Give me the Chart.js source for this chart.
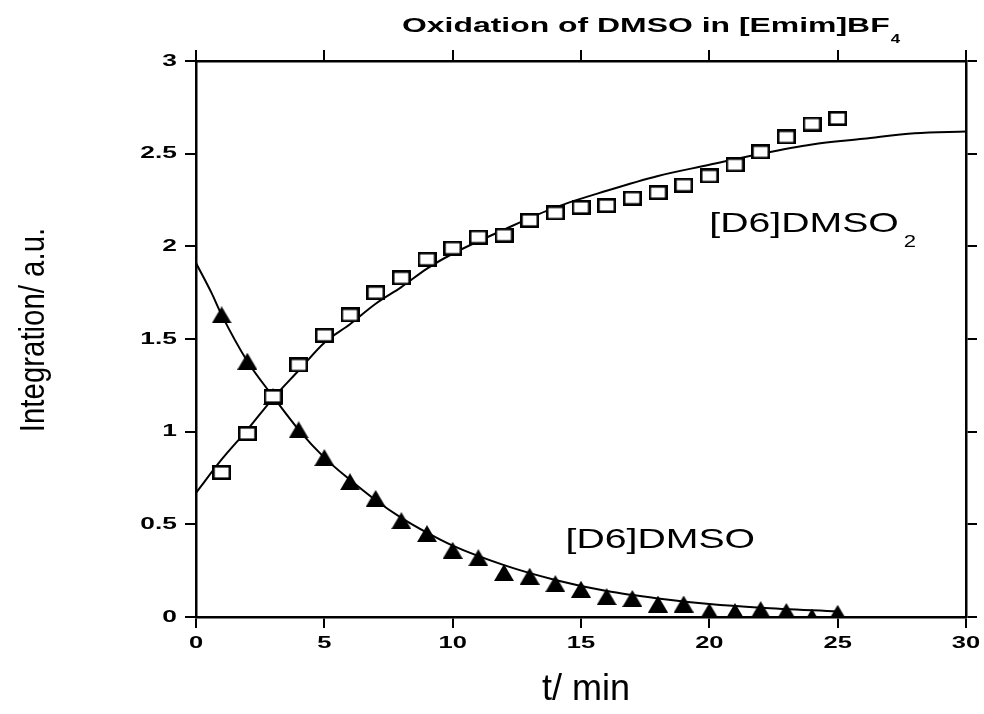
<!DOCTYPE html>
<html>
<head>
<meta charset="utf-8">
<script src="https://cdn.jsdelivr.net/npm/chart.js@4/dist/chart.umd.min.js"></script>
<style>
  body { margin: 0; background: #fff; }
  #wrap { width: 984px; height: 714px; position: relative; }
</style>
</head>
<body>
<div id="wrap"><canvas id="oxChart"></canvas></div>
<script>
// measured points, t in minutes
const times = [1, 2, 3, 4, 5, 6, 7, 8, 9, 10, 11, 12, 13, 14, 15, 16, 17, 18, 19, 20, 21, 22, 23, 24, 25];
const dmso2 = [0.78, 0.99, 1.19, 1.36, 1.52, 1.63, 1.75, 1.83, 1.93, 1.99, 2.05, 2.06, 2.14, 2.18, 2.21, 2.22, 2.26, 2.29, 2.33, 2.38, 2.44, 2.51, 2.59, 2.66, 2.69];
const dmso = [1.63, 1.38, 1.19, 1.01, 0.86, 0.73, 0.64, 0.52, 0.45, 0.36, 0.32, 0.24, 0.22, 0.18, 0.15, 0.11, 0.10, 0.07, 0.07, 0.03, 0.03, 0.04, 0.03, 0.00, 0.02];

// fitted curves
const fitT2 = [0, 1, 2, 3, 4, 5, 6, 7, 8, 9, 10, 12, 14, 16, 18, 20, 22, 24, 26, 28, 30];
const fitDmso2 = [0.67, 0.85, 1.01, 1.18, 1.33, 1.48, 1.58, 1.69, 1.78, 1.88, 1.96, 2.09, 2.21, 2.30, 2.38, 2.44, 2.50, 2.55, 2.58, 2.61, 2.62];
const fitT1 = [0, 0.6, 1, 2, 3, 4, 5, 6, 7, 8, 9, 10, 12, 14, 16, 18, 20, 22, 25];
const fitDmso = [1.91, 1.75, 1.63, 1.38, 1.19, 1.01, 0.86, 0.74, 0.63, 0.535, 0.455, 0.385, 0.28, 0.2, 0.14, 0.1, 0.07, 0.05, 0.03];

const xTicks = [0, 5, 10, 15, 20, 25, 30];
const yTicks = [0, 0.5, 1, 1.5, 2, 2.5, 3];

const pts = (xs, ys) => xs.map((x, i) => ({ x: x, y: ys[i] }));

// open rectangle and filled triangle markers
function makeRect() {
  const c = document.createElement('canvas');
  c.width = 19; c.height = 15;
  const g = c.getContext('2d');
  g.fillStyle = '#fff';
  g.fillRect(0, 0, 19, 15);
  g.strokeStyle = '#000';
  g.lineWidth = 2.6;
  g.strokeRect(1.3, 1.3, 16.4, 12.4);
  return c;
}
function makeTri() {
  const c = document.createElement('canvas');
  c.width = 20; c.height = 17;
  const g = c.getContext('2d');
  g.fillStyle = '#000';
  g.beginPath();
  g.moveTo(10, 0);
  g.lineTo(20, 17);
  g.lineTo(0, 17);
  g.closePath();
  g.fill();
  return c;
}

// the original typeface is a wide Helvetica, so text is stretched sideways
function wideText(ctx, text, x, y, sx) {
  ctx.save();
  ctx.translate(x, y);
  ctx.scale(sx, 1);
  ctx.fillText(text, 0, 0);
  const w = ctx.measureText(text).width * sx;
  ctx.restore();
  return w;
}

const SANS = '"Liberation Sans", Arial, sans-serif';

const textPlugin = {
  id: 'texts',
  afterDraw(chart) {
    const ctx = chart.ctx;
    const xs = chart.scales.x, ys = chart.scales.y;
    ctx.save();
    ctx.fillStyle = '#000';
    ctx.textBaseline = 'middle';

    // tick labels
    ctx.font = 'bold 17px ' + SANS;
    ctx.textAlign = 'right';
    yTicks.forEach(v => wideText(ctx, String(v), 177, ys.getPixelForValue(v), 1.55));
    ctx.textAlign = 'center';
    xTicks.forEach(v => wideText(ctx, String(v), xs.getPixelForValue(v), 643, 1.5));

    // title with subscript
    ctx.textAlign = 'left';
    ctx.font = 'bold 21px ' + SANS;
    const tw = wideText(ctx, 'Oxidation of DMSO in [Emim]BF', 402, 26, 1.52);
    ctx.font = 'bold 13px ' + SANS;
    wideText(ctx, '4', 402 + tw + 1, 39, 1.3);

    // series labels
    ctx.font = '28px ' + SANS;
    const lx = xs.getPixelForValue(20), ly = ys.getPixelForValue(2.12);
    const lw = wideText(ctx, '[D6]DMSO', lx, ly, 1.4);
    ctx.font = '17px ' + SANS;
    wideText(ctx, '2', lx + lw + 5, ly + 18, 1.3);
    ctx.font = '28px ' + SANS;
    wideText(ctx, '[D6]DMSO', xs.getPixelForValue(14.4), ys.getPixelForValue(0.415), 1.4);

    // axis titles (narrow face)
    ctx.textAlign = 'center';
    ctx.font = '36px ' + SANS;
    wideText(ctx, 't/ min', 586, 690, 1.0);
    ctx.translate(34, 330);
    ctx.rotate(-Math.PI / 2);
    ctx.font = '35px ' + SANS;
    wideText(ctx, 'Integration/ a.u.', 0, 0, 0.84);
    ctx.restore();
  }
};

const gridOpts = { drawOnChartArea: false, color: '#000', lineWidth: 2, tickLength: 11 };
const borderOpts = { color: '#000', width: 2.5 };

new Chart(document.getElementById('oxChart'), {
  type: 'scatter',
  data: {
    datasets: [
      { label: '[D6]DMSO2', data: pts(times, dmso2), pointStyle: makeRect(), pointRadius: 9, showLine: false },
      { label: '[D6]DMSO', data: pts(times, dmso), pointStyle: makeTri(), pointRadius: 9, showLine: false },
      { label: 'fit DMSO2', data: pts(fitT2, fitDmso2), showLine: true, pointRadius: 0, borderColor: '#000', borderWidth: 2, cubicInterpolationMode: 'monotone' },
      { label: 'fit DMSO', data: pts(fitT1, fitDmso), showLine: true, pointRadius: 0, borderColor: '#000', borderWidth: 2, cubicInterpolationMode: 'monotone' }
    ]
  },
  options: {
    responsive: true,
    maintainAspectRatio: false,
    animation: false,
    layout: { padding: 0 },
    plugins: { legend: { display: false }, tooltip: { enabled: false } },
    scales: {
      x: {
        type: 'linear', position: 'bottom', min: 0, max: 30,
        afterBuildTicks: s => { s.ticks = xTicks.map(v => ({ value: v })); },
        ticks: { display: false },
        grid: gridOpts, border: borderOpts,
        afterFit: s => { s.height = 97; }
      },
      x2: {
        type: 'linear', position: 'top', min: 0, max: 30,
        afterBuildTicks: s => { s.ticks = xTicks.map(v => ({ value: v })); },
        ticks: { display: false },
        grid: gridOpts, border: borderOpts,
        afterFit: s => { s.height = 61; }
      },
      y: {
        type: 'linear', position: 'left', min: 0, max: 3,
        afterBuildTicks: s => { s.ticks = yTicks.map(v => ({ value: v })); },
        ticks: { display: false },
        grid: gridOpts, border: borderOpts,
        afterFit: s => { s.width = 196; }
      },
      y2: {
        type: 'linear', position: 'right', min: 0, max: 3,
        afterBuildTicks: s => { s.ticks = yTicks.map(v => ({ value: v })); },
        ticks: { display: false },
        grid: gridOpts, border: borderOpts,
        afterFit: s => { s.width = 18; }
      }
    }
  },
  plugins: [textPlugin]
});
</script>
</body>
</html>
